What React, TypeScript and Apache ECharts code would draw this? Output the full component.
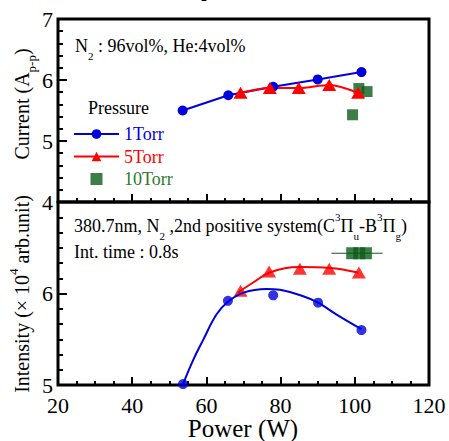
import React, { useEffect, useRef } from "react";
import * as echarts from "echarts";

// ---- data ----
const xTicks = [20, 40, 60, 80, 100, 120];

// Current (A p-p) panel
const curPower1 = [53.6, 65.9, 78.0, 90.0, 101.8];
const curValue1 = [5.5, 5.75, 5.89, 6.01, 6.13];
const curPower5 = [69.2, 77.1, 84.9, 93.1, 100.9];
const curValue5 = [5.79, 5.87, 5.87, 5.92, 5.79];
const curPower10 = [99.4, 101.1, 103.3];
const curValue10 = [5.43, 5.86, 5.81];

// Intensity panel
const intPower1 = [53.7, 65.8, 78.0, 90.1, 101.8];
const intValue1 = [5.01, 5.92, 5.98, 5.9, 5.6];
const intPower5 = [69.2, 76.9, 85.2, 93.1, 101.1];
const intValue5 = [6.03, 6.24, 6.27, 6.27, 6.23];
const intPower10 = [99.3, 101.2, 103.0];
const intValue10 = [6.44, 6.44, 6.44];
const errPower10 = [93.7, 107.5];
const errValue10 = [6.44, 6.44];

// fitted curves drawn in the intensity panel
const fitPower1 = [53.7, 56.4, 59.1, 62.7, 65.8, 70.0, 76.2, 79.8, 86.1, 90.1, 95.1, 101.8];
const fitValue1 = [5.01, 5.27, 5.49, 5.77, 5.91, 6.01, 6.05, 6.04, 5.97, 5.9, 5.77, 5.61];
const fitPower5 = [68.5, 72.6, 77.1, 85.2, 93.3, 100.9];
const fitValue5 = [6.01, 6.12, 6.23, 6.29, 6.28, 6.23];

const BLUE = "#0000dd";
const RED = "#ff0000";
const GREEN = "#0c5c1c";
const GREEN_TXT = "#2a7a2a";
const FONT = '"Liberation Serif", "DejaVu Serif", "Times New Roman", serif';

const zip = (xs: number[], ys: number[]) => xs.map((x, i) => [x, ys[i]]);

export default function App() {
  const ref = useRef<HTMLDivElement>(null);
  useEffect(() => {
    if (!ref.current) return;
    const chart = echarts.init(ref.current, undefined, { renderer: "svg" });

    const xAxisBase = (gridIndex: number, showLabels: boolean) => ({
      type: "value" as const,
      gridIndex,
      min: xTicks[0],
      max: xTicks[xTicks.length - 1],
      interval: 20,
      axisLine: { show: false },
      axisTick: { show: true, inside: true, length: 8, lineStyle: { color: "#000", width: 2 } },
      minorTick: { show: true, splitNumber: 4, length: 4, lineStyle: { color: "#000", width: 2 } },
      splitLine: { show: false },
      axisLabel: {
        show: showLabels,
        color: "#000",
        fontFamily: FONT,
        fontSize: 22,
        lineHeight: 18,
        margin: 11,
      },
    });

    const yAxisBase = (gridIndex: number, min: number, max: number, minorSplit: number, hideMax: boolean) => ({
      type: "value" as const,
      gridIndex,
      min,
      max,
      interval: 1,
      axisLine: { show: false },
      axisTick: { show: true, inside: true, length: 9, lineStyle: { color: "#000", width: 2 } },
      minorTick: { show: true, splitNumber: minorSplit, length: 5, lineStyle: { color: "#000", width: 2 } },
      splitLine: { show: false },
      axisLabel: {
        color: "#000",
        fontFamily: FONT,
        fontSize: 22,
        lineHeight: 14,
        margin: 5,
        formatter: (v: number) => (hideMax && v === max ? "" : String(v)),
      },
    });

    const richSubSup = {
      sub: { fontSize: 11, fontFamily: FONT, verticalAlign: "bottom", lineHeight: 12 },
      sup: { fontSize: 11, fontFamily: FONT, verticalAlign: "top", lineHeight: 14 },
    };

    chart.setOption({
      animation: false,
      backgroundColor: "#fff",
      grid: [
        { left: 58, top: 19, width: 371, height: 183, show: true, borderColor: "#000", borderWidth: 3, backgroundColor: "transparent" },
        { left: 58, top: 202, width: 371, height: 183, show: true, borderColor: "#000", borderWidth: 3, backgroundColor: "transparent" },
      ],
      xAxis: [xAxisBase(0, false), xAxisBase(1, true)],
      yAxis: [yAxisBase(0, 4, 7, 5, false), yAxisBase(1, 5, 7, 6, true)],
      legend: {
        orient: "vertical",
        left: 73,
        top: 125,
        itemWidth: 45,
        itemHeight: 12,
        itemGap: 4.5,
        padding: 0,
        selectedMode: false,
        symbolKeepAspect: true,
        textStyle: { fontFamily: FONT, fontSize: 18, lineHeight: 18 },
        data: [
          { name: "1Torr", textStyle: { color: BLUE } },
          { name: "5Torr", textStyle: { color: RED } },
          { name: "10Torr", icon: "path://M0,0h10v10h-10z", itemStyle: { color: GREEN }, textStyle: { color: GREEN_TXT } },
        ],
      },
      series: [
        // current panel
        {
          name: "1Torr",
          type: "line",
          xAxisIndex: 0,
          yAxisIndex: 0,
          data: zip(curPower1, curValue1),
          symbol: "circle",
          symbolSize: 10,
          lineStyle: { color: BLUE, width: 2 },
          itemStyle: { color: BLUE },
        },
        {
          name: "5Torr",
          type: "line",
          xAxisIndex: 0,
          yAxisIndex: 0,
          data: zip(curPower5, curValue5),
          smooth: 0.3,
          symbol: "triangle",
          symbolSize: [14, 12],
          lineStyle: { color: RED, width: 2 },
          itemStyle: { color: RED },
        },
        {
          name: "10Torr",
          type: "scatter",
          xAxisIndex: 0,
          yAxisIndex: 0,
          data: zip(curPower10, curValue10),
          symbol: "rect",
          symbolSize: 11,
          itemStyle: { color: GREEN },
        },
        // intensity panel
        {
          name: "fit1",
          type: "line",
          xAxisIndex: 1,
          yAxisIndex: 1,
          data: zip(fitPower1, fitValue1),
          smooth: 0.4,
          symbol: "none",
          lineStyle: { color: BLUE, width: 2 },
        },
        {
          name: "fit5",
          type: "line",
          xAxisIndex: 1,
          yAxisIndex: 1,
          data: zip(fitPower5, fitValue5),
          smooth: 0.4,
          symbol: "none",
          lineStyle: { color: RED, width: 2 },
        },
        {
          name: "int1",
          type: "scatter",
          xAxisIndex: 1,
          yAxisIndex: 1,
          data: zip(intPower1, intValue1),
          symbol: "circle",
          symbolSize: 10,
          itemStyle: { color: BLUE },
        },
        {
          name: "int5",
          type: "scatter",
          xAxisIndex: 1,
          yAxisIndex: 1,
          data: zip(intPower5, intValue5),
          symbol: "triangle",
          symbolSize: [14, 12],
          itemStyle: { color: RED },
        },
        {
          name: "err10",
          type: "line",
          xAxisIndex: 1,
          yAxisIndex: 1,
          data: zip(errPower10, errValue10),
          symbol: "none",
          lineStyle: { color: GREEN, width: 1 },
        },
        {
          name: "int10",
          type: "scatter",
          xAxisIndex: 1,
          yAxisIndex: 1,
          data: zip(intPower10, intValue10),
          symbol: "rect",
          symbolSize: [12, 12],
          itemStyle: { color: GREEN },
        },
      ],
      graphic: [
        {
          type: "text",
          left: 201,
          top: -9,
          style: { text: "2", fontFamily: FONT, fontSize: 12, fill: "#000" },
        },
        {
          type: "text",
          x: 75,
          y: 46,
          style: {
            text: "N{sub|2} : 96vol%, He:4vol%",
            fontFamily: FONT,
            fontSize: 18,
            lineHeight: 30,
            fill: "#000",
            verticalAlign: "middle",
            align: "left",
            rich: richSubSup,
          },
        },
        {
          type: "text",
          x: 88,
          y: 108,
          style: { text: "Pressure", fontFamily: FONT, fontSize: 18, fill: "#000", verticalAlign: "middle" },
        },
        {
          type: "text",
          x: 74,
          y: 226,
          style: {
            text: "380.7nm, N{sub|2} ,2nd positive system(C{sup|3}Π{sub|u}-B{sup|3}Π{sub|g})",
            fontFamily: FONT,
            fontSize: 18,
            lineHeight: 30,
            fill: "#000",
            verticalAlign: "middle",
            align: "left",
            rich: richSubSup,
          },
        },
        {
          type: "text",
          x: 74,
          y: 252,
          style: { text: "Int. time : 0.8s", fontFamily: FONT, fontSize: 18, fill: "#000", verticalAlign: "middle" },
        },
        {
          type: "text",
          x: 22,
          y: 104,
          rotation: Math.PI / 2,
          style: {
            text: "Current (A{sub|p-p})",
            fontFamily: FONT,
            fontSize: 20,
            lineHeight: 32,
            fill: "#000",
            align: "center",
            verticalAlign: "middle",
            rich: {
              sub: { fontSize: 13, fontFamily: FONT, verticalAlign: "bottom", lineHeight: 14 },
            },
          },
        },
        {
          type: "text",
          x: 22,
          y: 294,
          rotation: Math.PI / 2,
          style: {
            text: "Intensity (× 10{sup|4} arb.unit)",
            fontFamily: FONT,
            fontSize: 20,
            lineHeight: 30,
            fill: "#000",
            align: "center",
            verticalAlign: "middle",
            rich: {
              sup: { fontSize: 13, fontFamily: FONT, verticalAlign: "top", lineHeight: 14 },
            },
          },
        },
        {
          type: "text",
          x: 243,
          y: 428,
          style: {
            text: "Power (W)",
            fontFamily: FONT,
            fontSize: 25,
            lineHeight: 22,
            fill: "#000",
            align: "center",
            verticalAlign: "middle",
          },
        },
      ],
    });
    return () => chart.dispose();
  }, []);
  return (
    <div
      ref={ref}
      style={{ position: "fixed", left: 0, top: 0, width: 449, height: 441, background: "#fff" }}
    />
  );
}
